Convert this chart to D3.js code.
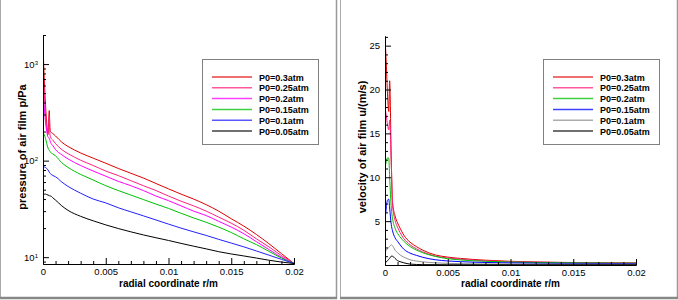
<!DOCTYPE html>
<html>
<head>
<meta charset="utf-8">
<script src="https://cdn.jsdelivr.net/npm/d3@7"></script>
<style>
  body { margin: 0; background: #fff; }
  svg { display: block; font-family: "Liberation Sans", Arial, sans-serif; }
</style>
</head>
<body>
<svg id="chart" width="678" height="300"></svg>
<script>
// ---- data ----
var legendLabels = ["P0=0.3atm", "P0=0.25atm", "P0=0.2atm", "P0=0.15atm", "P0=0.1atm", "P0=0.05atm"];
var xTicks = [0, 0.005, 0.01, 0.015, 0.02];
var xTickLabels = ["0", "0.005", "0.01", "0.015", "0.02"];
var pTicks = [10, 100, 1000];
var pTickExp = ["1", "2", "3"];
var uTicks = [5, 10, 15, 20, 25];
var uTickLabels = ["5", "10", "15", "20", "25"];

// pressure of air film (Pa) vs radial coordinate (m)
var rP = [0, 0.0001, 0.0002, 0.0003, 0.0004, 0.0005, 0.00055, 0.0006, 0.0008, 0.001, 0.0015, 0.002,
          0.003, 0.004, 0.005, 0.006, 0.007, 0.008, 0.009, 0.010, 0.011, 0.012, 0.013, 0.014,
          0.015, 0.016, 0.017, 0.018, 0.019, 0.020];
var p030 = [1600, 700, 380, 240, 190, 330, 220, 200, 190, 180, 155, 140,
            120, 106, 94, 83, 74, 66, 58, 51, 45, 40, 35, 30, 25, 21, 17.2, 13.8, 10.9, 8.6];
var p025 = [1000, 500, 300, 220, 185, 290, 190, 175, 162, 150, 130, 118,
            101, 89, 78, 70, 62, 55, 49, 43, 38, 34, 30, 26, 22.5, 19, 15.5, 12.8, 10.4, 8.6];
var p020 = [500, 350, 250, 200, 175, 170, 162, 155, 142, 130, 115, 104,
            89, 78, 69, 61, 55, 49, 43, 38.5, 34, 30, 27, 23.5, 20.5, 17.5, 14.5, 12, 10, 8.6];
var p015 = [195, 185, 170, 150, 135, 128, 125, 122, 117, 112, 95, 85,
            72, 63, 55, 49, 44, 39.5, 35.5, 32, 28.5, 25.5, 23, 20.5, 18, 15.5, 13.5, 11.5, 9.8, 8.6];
var p010 = [86, 86, 85, 83, 80, 76, 74, 73, 70, 68, 60, 54,
            46, 40, 36.5, 32.5, 29.5, 26.8, 24.3, 22, 20, 18.3, 16.8, 15.3, 14, 12.8, 11.6, 10.5, 9.5, 8.6];
var p005 = [45, 45, 45, 44.5, 44, 43.5, 43, 43, 41, 39, 34, 30.5,
            26.5, 23.8, 21.6, 19.8, 18.3, 17, 15.9, 14.9, 13.9, 13, 12.2, 11.4, 10.8, 10.3, 9.8, 9.3, 8.9, 8.6];

// velocity of air film (m/s) vs radial coordinate (m)
var rU = [0, 0.0001, 0.0002, 0.0003, 0.00037, 0.0005, 0.0006, 0.0008, 0.001, 0.0012, 0.0015, 0.002,
          0.0025, 0.003, 0.004, 0.005, 0.006, 0.008, 0.01, 0.012, 0.014, 0.016, 0.018, 0.02];
var u030 = [26, 23, 19.5, 17.5, 21, 12, 7.2, 5.6, 4.8, 4.2, 3.4, 2.6,
            2.1, 1.7, 1.15, 0.9, 0.75, 0.55, 0.42, 0.35, 0.3, 0.27, 0.25, 0.24];
var u025 = [18, 17, 16, 15.4, 16.5, 11.5, 6.8, 5.1, 4.3, 3.7, 3.0, 2.3,
            1.85, 1.5, 1.02, 0.8, 0.66, 0.48, 0.37, 0.31, 0.27, 0.24, 0.22, 0.21];
var u020 = [11, 11.8, 12.2, 12.2, 10, 6.5, 5.3, 4.2, 3.6, 3.2, 2.7, 2.1,
            1.7, 1.4, 0.98, 0.72, 0.58, 0.42, 0.34, 0.29, 0.26, 0.24, 0.22, 0.21];
var u015 = [5, 6.5, 7.4, 7.5, 6.5, 4.6, 3.9, 3.1, 2.7, 2.3, 1.8, 1.35,
            1.1, 0.88, 0.6, 0.46, 0.38, 0.29, 0.24, 0.21, 0.19, 0.18, 0.17, 0.16];
var u010 = [1.5, 1.7, 1.85, 2.0, 2.1, 2.3, 2.2, 1.7, 1.4, 1.15, 0.9, 0.6,
            0.45, 0.36, 0.25, 0.19, 0.15, 0.12, 0.1, 0.1, 0.1, 0.1, 0.1, 0.1];
var u005 = [0.2, 0.35, 0.5, 0.65, 0.75, 1.0, 1.0, 0.75, 0.5, 0.38, 0.25, 0.1,
            0.06, 0.04, 0.04, 0.03, 0.03, 0.03, 0.03, 0.03, 0.03, 0.03, 0.03, 0.03];

var pColors = ["#e00000", "#ff2080", "#ff00ff", "#00c000", "#2020ff", "#000000"];
var uColors = ["#e00000", "#ff2080", "#00c000", "#0000ff", "#909090", "#000000"];

var svg = d3.select("#chart");

// panel frames
function frame(x0, x1) {
    var f = svg.append("g");
    f.append("line").attr("x1", x0 + 0.5).attr("x2", x0 + 0.5).attr("y1", 0).attr("y2", 298)
        .attr("stroke", "#aaa");
    f.append("line").attr("x1", x1 - 0.5).attr("x2", x1 - 0.5).attr("y1", 0).attr("y2", 299)
        .attr("stroke", "#999").attr("stroke-width", 1.5);
    f.append("line").attr("x1", x0).attr("x2", x1).attr("y1", 298).attr("y2", 298)
        .attr("stroke", "#888").attr("stroke-width", 2.5);
}
frame(0, 337);
frame(340, 678);

function drawPanel(cfg) {
    var x = cfg.x, y = cfg.y;
    var g = svg.append("g");
    var x0 = x.range()[0], x1 = x.range()[1], yb = y.range()[0], yt = y.range()[1];

    g.append("clipPath").attr("id", cfg.id + "clip")
        .append("rect").attr("x", x0).attr("y", yt).attr("width", x1 - x0).attr("height", yb - yt);

    // lines
    var line = d3.line()
        .curve(d3.curveMonotoneX)
        .x(function (d) { return x(d[0]); })
        .y(function (d) { return y(d[1]); });
    var lines = g.append("g").attr("clip-path", "url(#" + cfg.id + "clip)");
    cfg.series.forEach(function (s, i) {
        var pts = cfg.r.map(function (r, j) { return [r, s[j]]; });
        lines.append("path").attr("d", line(pts))
            .attr("fill", "none").attr("stroke", cfg.colors[i]).attr("stroke-width", 1);
    });

    // x axis, ticks inside
    var xMinor = d3.range(0, 21).map(function (k) { return k * 0.001; })
        .filter(function (k, i) { return i % 5 !== 0; });
    g.append("g").attr("transform", "translate(0," + yb + ")")
        .call(d3.axisBottom(x).tickValues(xMinor).tickSizeInner(-3).tickSizeOuter(0).tickFormat(""));
    g.append("g").attr("transform", "translate(0," + yb + ")")
        .call(d3.axisBottom(x).tickValues(xTicks).tickSizeInner(-6).tickSizeOuter(0).tickPadding(4)
            .tickFormat(function (d, i) { return xTickLabels[i]; }))
        .call(function (a) { a.selectAll("text").attr("font-size", "9.5px").attr("fill", "#000"); });

    // y axis
    g.append("g").attr("transform", "translate(" + x0 + ",0)")
        .call(d3.axisLeft(y).tickValues(cfg.yMinor).tickSizeInner(-3).tickSizeOuter(0).tickFormat(""));
    var ya = g.append("g").attr("transform", "translate(" + x0 + ",0)")
        .call(d3.axisLeft(y).tickValues(cfg.yTicks).tickSizeInner(-6).tickSizeOuter(0).tickPadding(5)
            .tickFormat(function (d, i) { return cfg.yLabels[i]; }));
    ya.selectAll("text").attr("font-size", "9.5px").attr("fill", "#000");
    if (cfg.sup) {
        ya.selectAll("text").each(function (d, i) {
            var t = d3.select(this);
            t.text("10");
            t.append("tspan").attr("dy", "-0.45em").attr("font-size", "6px").text(cfg.sup[i]);
        });
    }
    g.selectAll(".domain").attr("stroke", "#000");

    // axis titles
    g.append("text").attr("x", (x0 + x1) / 2).attr("y", 287)
        .attr("text-anchor", "middle").attr("font-size", "10px").attr("font-weight", "bold")
        .text("radial coordinate r/m");
    g.append("text").attr("transform", "translate(" + cfg.titleX + "," + 147 + ") rotate(-90)")
        .attr("text-anchor", "middle").attr("font-size", "11px").attr("font-weight", "bold")
        .text(cfg.yTitle);

    // legend
    var lg = g.append("g").attr("transform", "translate(" + cfg.legendX + ",59)");
    lg.append("rect").attr("x", 0.5).attr("y", 0.5).attr("width", 116).attr("height", 85)
        .attr("fill", "#fff").attr("stroke", "#808080");
    legendLabels.forEach(function (lab, i) {
        var yy = 18 + i * 10.8;
        lg.append("line").attr("x1", 10).attr("x2", 50).attr("y1", yy).attr("y2", yy)
            .attr("stroke", cfg.colors[i]).attr("stroke-width", 1.5).attr("stroke-opacity", 0.75);
        lg.append("text").attr("x", 57).attr("y", yy + 3.5)
            .attr("font-size", "9px").attr("font-weight", "bold").text(lab);
    });
}

var pMinor = [];
[1, 10, 100, 1000].forEach(function (dec) {
    for (var k = 2; k <= 9; k++) {
        var v = k * dec;
        if (v >= 8.5 && v <= 2000) pMinor.push(v);
    }
});
var uMinor = d3.range(1, 27).filter(function (v) { return v % 5 !== 0; });

drawPanel({
    id: "p",
    x: d3.scaleLinear().domain([0, 0.02]).range([43, 294]),
    y: d3.scaleLog().domain([8.5, 2000]).range([264, 35]),
    r: rP,
    series: [p030, p025, p020, p015, p010, p005],
    colors: pColors,
    yTicks: pTicks,
    yLabels: pTicks.map(String),
    sup: pTickExp,
    yMinor: pMinor,
    yTitle: "pressure of air film p/Pa",
    titleX: 25.5,
    legendX: 202
});

drawPanel({
    id: "u",
    x: d3.scaleLinear().domain([0, 0.02]).range([385, 636]),
    y: d3.scaleLinear().domain([0, 26.1]).range([265, 36]),
    r: rU,
    series: [u030, u025, u020, u015, u010, u005],
    colors: uColors,
    yTicks: uTicks,
    yLabels: uTickLabels,
    sup: null,
    yMinor: uMinor,
    yTitle: "velocity of air film u/(m/s)",
    titleX: 366,
    legendX: 543
});
</script>
</body>
</html>
